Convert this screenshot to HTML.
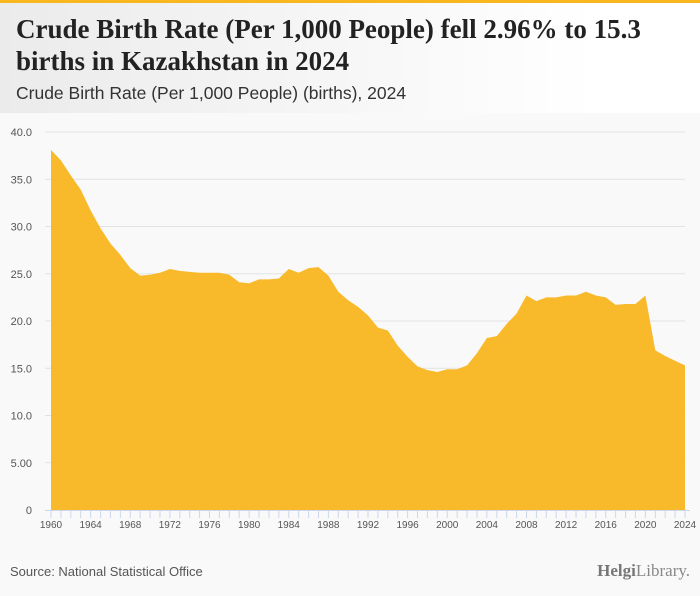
<!DOCTYPE html>
<html><head><meta charset="utf-8"><style>
body{margin:0;width:700px;height:596px;background:#f9f9f9;font-family:"Liberation Sans",sans-serif;overflow:hidden;position:relative}
#hdr{position:absolute;left:0;top:0;width:700px;height:113px;background:linear-gradient(90deg,#ebebeb,#fff 85%);border-top:3px solid #f8b61f;box-sizing:border-box}
#title{position:absolute;left:16px;top:10px;font:bold 27px/32px "Liberation Serif",serif;color:#222;margin:0;width:670px}
#sub{position:absolute;left:16px;top:80px;font-size:17.5px;color:#333}
#src{position:absolute;left:10px;top:564px;font-size:13px;color:#555}
#logo{position:absolute;right:10px;top:561px;font:17px "Liberation Serif",serif;color:#888}
</style></head><body>
<div id="hdr">
<h1 id="title">Crude Birth Rate (Per 1,000 People) fell 2.96% to 15.3 births in Kazakhstan in 2024</h1>
<div id="sub">Crude Birth Rate (Per 1,000 People) (births), 2024</div>
</div>
<svg id="chart" width="700" height="596" style="position:absolute;left:0;top:0"></svg>
<div id="src">Source: National Statistical Office</div>
<div id="logo"><b style="color:#777">Helgi</b>Library.</div>
<script>
const years=[];for(let y=1960;y<=2024;y++)years.push(y);
const values=[38.1,37.0,35.4,33.9,31.7,29.8,28.2,27.0,25.6,24.8,24.9,25.1,25.5,25.3,25.2,25.1,25.1,25.1,24.9,24.1,24.0,24.4,24.4,24.5,25.5,25.1,25.6,25.7,24.8,23.1,22.2,21.5,20.6,19.3,19.0,17.4,16.2,15.2,14.8,14.6,14.9,14.9,15.3,16.6,18.2,18.4,19.7,20.8,22.7,22.1,22.5,22.5,22.7,22.7,23.1,22.7,22.5,21.7,21.8,21.8,22.7,16.9,16.3,15.8,15.3];
const yTicks=[0,5,10,15,20,25,30,35,40];
const yTickLabels=["0","5.00","10.0","15.0","20.0","25.0","30.0","35.0","40.0"];
const xTickYears=[1960,1964,1968,1972,1976,1980,1984,1988,1992,1996,2000,2004,2008,2012,2016,2020,2024];
const svg=document.getElementById('chart'),NS='http://www.w3.org/2000/svg';
const X=y=>51+(y-1960)*(634/64), Y=v=>510-v*9.45;
function mk(t,a){const e=document.createElementNS(NS,t);for(const k in a)e.setAttribute(k,a[k]);svg.appendChild(e);return e;}
yTicks.forEach((t,i)=>{
 if(t>0){const g=mk('line',{x1:45,x2:685,y1:Y(t),y2:Y(t),stroke:'#e2e2e2'});
 
 }
 const l=mk('text',{x:32,y:Y(t)+4,'text-anchor':'end','font-size':11,fill:'#555','font-family':'Liberation Sans,sans-serif'});
 l.textContent=yTickLabels[i];
 
 
});
let d='M'+X(years[0])+','+Y(0);
years.forEach((y,i)=>d+=' L'+X(y)+','+Y(values[i]));
d+=' L'+X(years[years.length-1])+','+Y(0)+' Z';
const area=mk('path',{d:d,fill:'#f8b61f','fill-opacity':0.95});


const ax=mk('line',{x1:45,x2:690,y1:510.5,y2:510.5,stroke:'#ccd6eb'});


years.forEach(y=>{const t=mk('line',{x1:X(y),x2:X(y),y1:510,y2:518,stroke:'#ccd6eb'});
 
 });
xTickYears.forEach(y=>{const l=mk('text',{x:X(y),y:528,'text-anchor':'middle','font-size':10,fill:'#555','font-family':'Liberation Sans,sans-serif'});
 l.textContent=y;
 
 });
</script>
</body></html>
